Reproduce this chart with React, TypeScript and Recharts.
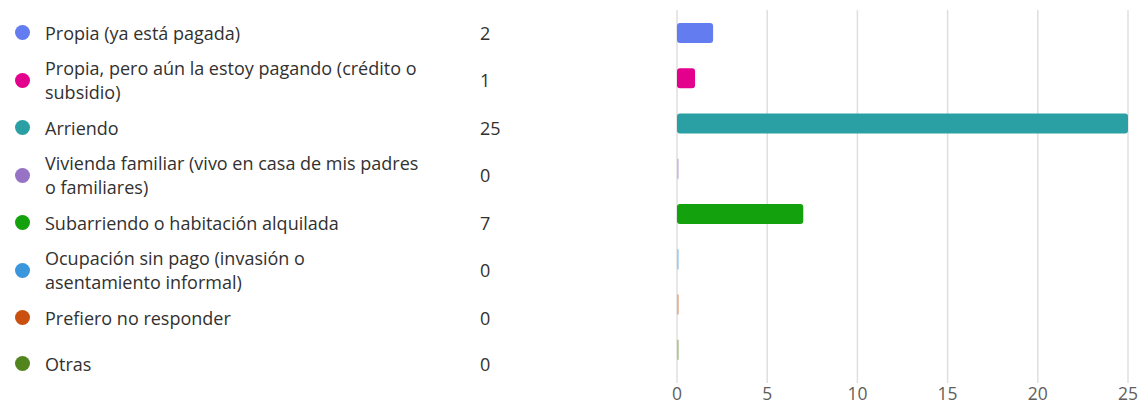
import React from "react";
import { BarChart, Bar, XAxis, YAxis, CartesianGrid, Cell } from "recharts";

const categories = [
  "Propia (ya está pagada)",
  "Propia, pero aún la estoy pagando (crédito o\nsubsidio)",
  "Arriendo",
  "Vivienda familiar (vivo en casa de mis padres\no familiares)",
  "Subarriendo o habitación alquilada",
  "Ocupación sin pago (invasión o\nasentamiento informal)",
  "Prefiero no responder",
  "Otras",
];
const values = [2, 1, 25, 0, 7, 0, 0, 0];
const colors = ["#637CEF", "#E3008C", "#2AA0A4", "#9673C4", "#13A10E", "#3A96DD", "#CA5010", "#53851F"];
const xTicks = [0, 5, 10, 15, 20, 25];

const data = categories.map((name, i) => ({ name, value: values[i], color: colors[i] }));

const FONT = "'Open Sans', 'Noto Sans', sans-serif";

const BarShape = (props: any) => {
  const { x, y, width, height, fill } = props;
  if (!width || width < 1) {
    return <rect x={x} y={y} width={2} height={height} fill={fill} opacity={0.35} />;
  }
  return <rect x={x} y={y} width={width} height={height} fill={fill} rx={3} ry={3} />;
};

export default function App() {
  return (
    <div style={{ position: "absolute", left: 0, top: 0, width: 1141, height: 406, background: "#fff", fontFamily: FONT, overflow: "hidden" }}>
      <div style={{ position: "absolute", left: 0, top: 9.5, width: 540 }}>
        {data.map((d) => (
          <div
            key={d.name}
            style={{
              display: "flex",
              alignItems: "center",
              minHeight: d.name.includes("\n") ? 49 : 46,
              color: "#323130",
              fontSize: 18,
              lineHeight: "24px",
            }}
          >
            <div style={{ width: 15, height: 15, borderRadius: "50%", background: d.color, marginLeft: 14.5, marginRight: 15.5, flex: "none" }} />
            <div style={{ width: 435, flex: "none", whiteSpace: "pre-line" }}>{d.name}</div>
            <div style={{ flex: "none" }}>{d.value}</div>
          </div>
        ))}
      </div>
      <div style={{ position: "absolute", left: 0, top: 0 }}>
        <BarChart
          width={1141}
          height={406}
          data={data}
          layout="vertical"
          margin={{ top: 10, right: 13, bottom: 0, left: 677 }}
          barSize={20}
        >
          <CartesianGrid horizontal={false} vertical={true} stroke="#E1DFDD" strokeWidth={1.5} />
          <XAxis
            type="number"
            domain={[0, 25]}
            ticks={xTicks}
            axisLine={false}
            tickLine={false}
            height={23}
            tickMargin={-1}
            tick={{ fill: "#605E5C", fontSize: 17.5, fontFamily: FONT }}
            interval={0}
          />
          <YAxis
            type="category"
            dataKey="name"
            width={0}
            tick={false}
            tickLine={false}
            axisLine={{ stroke: "#C8C6C4", strokeWidth: 1.5 }}
            padding={{ top: 0, bottom: 11 }}
          />
          <Bar dataKey="value" isAnimationActive={false} shape={BarShape}>
            {data.map((d) => (
              <Cell key={d.name} fill={d.color} />
            ))}
          </Bar>
        </BarChart>
      </div>
    </div>
  );
}
